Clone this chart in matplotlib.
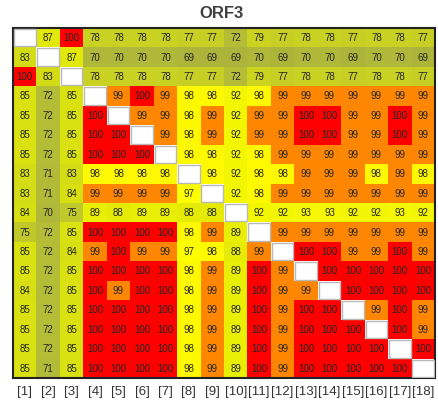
import numpy as np
import matplotlib
matplotlib.use("Agg")
import matplotlib.pyplot as plt
from matplotlib.colors import LinearSegmentedColormap
from matplotlib.patches import Rectangle

plt.rcParams['font.family'] = ['Liberation Sans', 'DejaVu Sans']

title = "ORF3"
labels = [f"[{i}]" for i in range(1, 19)]

# pairwise identity (%) between the 18 sequences; None on the diagonal
identity = [
    [None, 87, 100, 78, 78, 78, 78, 77, 77, 72, 79, 77, 78, 78, 77, 78, 78, 77],
    [83, None, 87, 70, 70, 70, 70, 69, 69, 69, 70, 69, 70, 70, 69, 70, 70, 69],
    [100, 83, None, 78, 78, 78, 78, 77, 77, 72, 79, 77, 78, 78, 77, 78, 78, 77],
    [85, 72, 85, None, 99, 100, 99, 98, 98, 92, 98, 99, 99, 99, 99, 99, 99, 99],
    [85, 72, 85, 100, None, 99, 99, 98, 99, 92, 99, 99, 100, 100, 99, 99, 100, 99],
    [85, 72, 85, 100, 100, None, 99, 98, 99, 92, 99, 99, 100, 100, 99, 99, 100, 99],
    [85, 72, 85, 100, 100, 100, None, 98, 98, 92, 98, 99, 99, 99, 99, 99, 99, 99],
    [83, 71, 83, 98, 98, 98, 98, None, 98, 92, 98, 98, 99, 99, 99, 98, 99, 98],
    [83, 71, 84, 99, 99, 99, 99, 97, None, 92, 98, 99, 99, 99, 99, 99, 99, 99],
    [84, 70, 75, 89, 88, 89, 89, 88, 88, None, 92, 92, 93, 93, 92, 92, 93, 92],
    [75, 72, 85, 100, 100, 100, 100, 98, 99, 89, None, 99, 99, 99, 99, 99, 99, 99],
    [85, 72, 84, 99, 100, 99, 99, 97, 98, 88, 99, None, 100, 100, 99, 99, 100, 99],
    [85, 72, 85, 100, 100, 100, 100, 98, 99, 89, 100, 99, None, 100, 100, 100, 100, 100],
    [84, 72, 85, 100, 99, 100, 100, 98, 99, 89, 100, 99, 99, None, 100, 100, 100, 100],
    [85, 72, 85, 100, 100, 100, 100, 98, 99, 89, 100, 99, 100, 100, None, 99, 100, 99],
    [85, 72, 85, 100, 100, 100, 100, 98, 99, 89, 100, 99, 100, 100, 100, None, 100, 99],
    [85, 72, 85, 100, 100, 100, 100, 98, 99, 89, 100, 99, 100, 100, 100, 100, None, 100],
    [85, 71, 85, 100, 100, 100, 100, 98, 99, 89, 100, 99, 100, 100, 100, 100, 100, None],
]

vmin, vmax = 69, 100
stops = [
    (69, "#acb53a"), (72, "#b5bd36"), (77, "#c7cf24"), (85, "#d9e110"),
    (89, "#e9ef04"), (93, "#f5f800"), (98, "#ffff00"), (99, "#ff8a00"),
    (100, "#ff0000"),
]
cmap = LinearSegmentedColormap.from_list(
    "identity", [((v - vmin) / (vmax - vmin), c) for v, c in stops])

data = np.array([[np.nan if v is None else v for v in row] for row in identity], float)
masked = np.ma.masked_invalid(data)
n = len(labels)

fig = plt.figure(figsize=(4.39, 4.03), dpi=100)
ax = fig.add_axes([13 / 439, 1 - 378 / 403, 422 / 439, 350 / 403])
ax.set_facecolor("white")
ax.pcolormesh(np.arange(n + 1), np.arange(n + 1), masked, cmap=cmap,
              vmin=vmin, vmax=vmax, shading="flat")

for i in range(n):
    ax.add_patch(Rectangle((i + 0.04, i + 0.05), 0.92, 0.9, facecolor="white",
                           edgecolor="#b8b8b8", lw=1.0, zorder=3))
    for j in range(n):
        v = identity[i][j]
        if v is None:
            continue
        ax.text(j + 0.5, i + 0.52, str(v), ha="center", va="center",
                fontsize=7, color="#262626", zorder=4)

ax.set_xlim(0, n)
ax.set_ylim(n, 0)
ax.set_xticks(np.arange(n) + 0.5)
ax.set_xticklabels(labels, fontsize=9.5, color="#333333")
ax.tick_params(axis="x", length=0, pad=6)
ax.set_yticks([])
for s in ax.spines.values():
    s.set_linewidth(1.5)
    s.set_color("#222222")

fig.text(221 / 439, 1 - 14 / 403, title, ha="center", va="center",
         fontsize=12, fontweight="bold", color="#404040")

fig.savefig("out.png", dpi=100)
